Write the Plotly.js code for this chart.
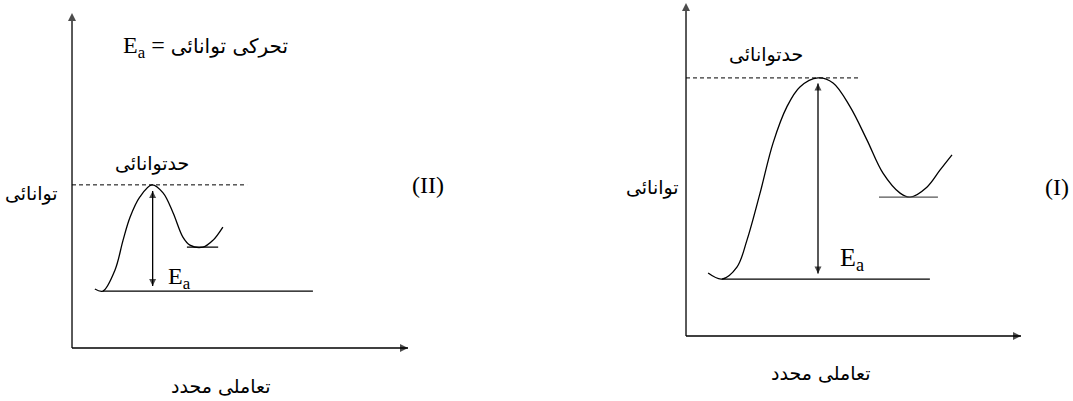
<!DOCTYPE html>
<html>
<head>
<meta charset="utf-8">
<script src="https://cdn.plot.ly/plotly-3.0.1.min.js"></script>
<style>
  html, body { margin: 0; padding: 0; background: #fff; }
  #chart { width: 1073px; height: 401px; }
</style>
</head>
<body>
<div id="chart"></div>
<script>
// text
const energyLabel = 'توانائی';
const reactionLabel = 'تعاملی محدد';
const thresholdLabel = 'حدتوانائی';
const activationLabel = 'تحرکی توانائی';
const panelLabels = ['(II)', '(I)'];

// panel (II), left: reaction coordinate vs energy (axis units 0..10)
const coordII = [0.68, 0.92, 1.28, 1.52, 1.73, 2.02, 2.38, 2.71, 3.01, 3.30, 3.51, 3.90, 4.20, 4.49];
const energyII = [1.76, 1.70, 2.33, 3.22, 3.91, 4.51, 4.87, 4.63, 4.03, 3.31, 3.07, 3.01, 3.22, 3.61];
const reactantSpanII = [0.92, 7.17];
const productSpanII = [3.42, 4.35];
const thresholdSpanII = [0, 5.21];
const levelsII = [1.70, 3.01, 4.87]; // reactant, product, threshold
const eaArrowII = [4.69, 1.85];      // arrow tips (top, bottom)
const peakCoordII = 2.40;

// panel (I), right
const coordI = [0.66, 1.07, 1.52, 1.82, 2.21, 2.60, 3.01, 3.40, 3.94, 4.39, 4.90, 5.40, 5.88, 6.39, 6.69, 7.19, 7.58, 7.94];
const energyI = [1.89, 1.71, 2.07, 2.88, 4.29, 5.80, 6.88, 7.48, 7.75, 7.60, 6.88, 5.89, 4.89, 4.29, 4.17, 4.47, 4.98, 5.44];
const reactantSpanI = [1.07, 7.28];
const productSpanI = [5.76, 7.52];
const thresholdSpanI = [0, 5.19];
const levelsI = [1.71, 4.17, 7.75];
const eaArrowI = [7.58, 1.88];
const peakCoordI = 3.94;

const axisEnd = 10;

const latin = 'Liberation Serif, Times New Roman, serif';
const urdu = 'DejaVu Sans, Noto Sans, sans-serif';

function line(xa, ya, x, y, color, width, dash) {
  return {x: x, y: y, xaxis: xa, yaxis: ya, mode: 'lines', hoverinfo: 'skip',
          line: {color: color, width: width, dash: dash || 'solid'}};
}

function arrowLine(xa, ya, x, y, symbols, sizes) {
  return {x: x, y: y, xaxis: xa, yaxis: ya, mode: 'lines+markers', hoverinfo: 'skip',
          line: {color: '#000', width: 1.3},
          marker: {symbol: symbols, size: sizes, color: '#000', line: {width: 0}}};
}

function panel(xa, ya, coord, energy, reactantSpan, productSpan, thresholdSpan, levels, eaArrow, peakCoord, productColor) {
  return [
    {x: coord, y: energy, xaxis: xa, yaxis: ya, mode: 'lines', hoverinfo: 'skip',
     line: {color: '#000', width: 1.3, shape: 'spline', smoothing: 1}},
    line(xa, ya, reactantSpan, [levels[0], levels[0]], '#000', 1.3),
    line(xa, ya, productSpan, [levels[1], levels[1]], productColor, 1.3),
    line(xa, ya, thresholdSpan, [levels[2], levels[2]], '#000', 1, '4px,3px'),
    // axes with arrowheads
    arrowLine(xa, ya, [0, axisEnd], [0, 0], ['circle', 'arrow-right'], [0, 8]),
    arrowLine(xa, ya, [0, 0], [0, axisEnd], ['circle', 'arrow-up'], [0, 8]),
    // activation energy double arrow
    arrowLine(xa, ya, [peakCoord, peakCoord], eaArrow, ['arrow-up', 'arrow-down'], [7, 7])
  ];
}

const data = [
  ...panel('x', 'y', coordII, energyII, reactantSpanII, productSpanII, thresholdSpanII, levelsII, eaArrowII, peakCoordII, '#000'),
  ...panel('x2', 'y2', coordI, energyI, reactantSpanI, productSpanI, thresholdSpanI, levelsI, eaArrowI, peakCoordI, '#555')
];

function label(xr, yr, x, y, text, family, size) {
  return {xref: xr, yref: yr, x: x, y: y, text: text, showarrow: false,
          font: {family: family, size: size, color: '#000'}};
}

const ea = 'E<sub>a</sub>';

const annotations = [
  // panel (II)
  label('x', 'y', 3.2, 2.1, ea, latin, 24),
  label('x', 'y', 2.38, 5.5, thresholdLabel, urdu, 19),
  label('x', 'y', -1.22, 4.6, energyLabel, urdu, 19),
  label('x', 'y', 4.43, -1.12, reactionLabel, urdu, 19),
  label('x', 'y', 10.6, 4.87, panelLabels[0], latin, 24),
  label('x', 'y', 3.96, 9.0, ea + ' = <span style="font-family:DejaVu Sans;font-size:20px">' + activationLabel + '</span>', latin, 24),
  // panel (I)
  label('x2', 'y2', 4.95, 2.32, ea, latin, 26),
  label('x2', 'y2', 2.39, 8.45, thresholdLabel, urdu, 19),
  label('x2', 'y2', -1.01, 4.47, energyLabel, urdu, 19),
  label('x2', 'y2', 4.0, -1.1, reactionLabel, urdu, 19),
  label('x2', 'y2', 11.07, 4.47, panelLabels[1], latin, 24)
];

const hidden = {showgrid: false, zeroline: false, showline: false, showticklabels: false, ticks: '', fixedrange: true};

const layout = {
  width: 1073,
  height: 401,
  margin: {l: 0, r: 0, t: 0, b: 0},
  paper_bgcolor: '#fff',
  plot_bgcolor: '#fff',
  showlegend: false,
  xaxis: {...hidden, domain: [0, 0.5], range: [-2.143, 13.824], anchor: 'y'},
  yaxis: {...hidden, domain: [0, 1], range: [-1.582, 10.388], anchor: 'x'},
  xaxis2: {...hidden, domain: [0.5, 1], range: [-4.463, 11.552], anchor: 'y2'},
  yaxis2: {...hidden, domain: [0, 1], range: [-1.952, 10.09], anchor: 'x2'},
  annotations: annotations
};

Plotly.newPlot('chart', data, layout, {displayModeBar: false, staticPlot: true});
</script>
</body>
</html>
